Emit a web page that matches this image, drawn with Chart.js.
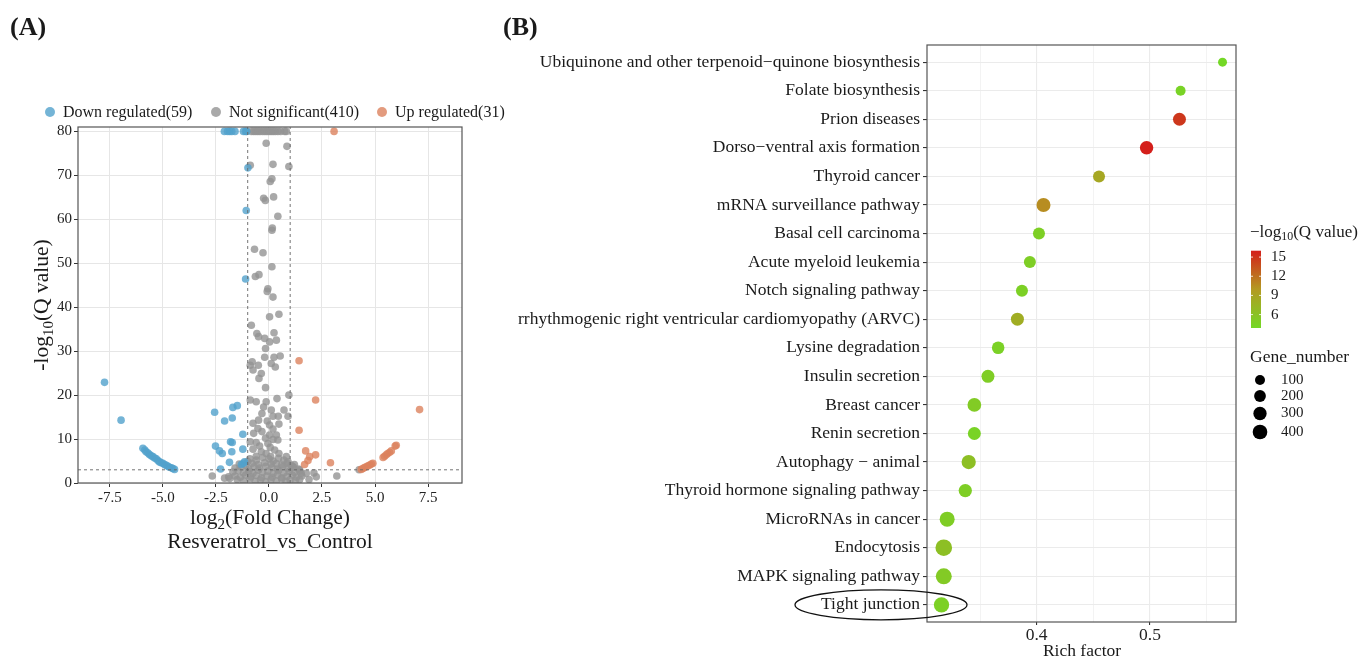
<!DOCTYPE html>
<html>
<head>
<meta charset="utf-8">
<script src="https://cdn.jsdelivr.net/npm/chart.js@4.4.1/dist/chart.umd.min.js"></script>
<style>
  html, body { margin:0; padding:0; background:#fff; }
  body { width:1365px; height:659px; position:relative; overflow:hidden;
         font-family:"Liberation Serif","Times New Roman",serif; color:#1a1a1a; }
  canvas { position:absolute; top:0; }
  #volcano { left:0; }
  #enrich { left:490px; }
  .lbl { position:absolute; white-space:nowrap; line-height:1; }
  .mid { transform:translate(-50%,-50%); }
  .left { transform:translateY(-50%); }
  .rot { transform:translate(-50%,-50%) rotate(-90deg); }
  sub { font-size:0.7em; vertical-align:-0.3em; line-height:0; }
  .dot { position:absolute; width:10px; height:10px; border-radius:50%; transform:translate(-50%,-50%); }
</style>
</head>
<body>
<canvas id="volcano" width="490" height="659"></canvas>
<canvas id="enrich" width="875" height="659"></canvas>

<div class="lbl left" style="left:10px;top:27px;font-size:26px;font-weight:bold">(A)</div>
<div class="lbl left" style="left:503px;top:27px;font-size:26px;font-weight:bold">(B)</div>
<div id="legendA"></div>
<div class="lbl rot" style="left:42px;top:305px;font-size:21.5px">-log<sub>10</sub>(Q value)</div>
<div class="lbl mid" style="left:270px;top:518px;font-size:21.5px">log<sub>2</sub>(Fold Change)</div>
<div class="lbl mid" style="left:270px;top:542px;font-size:21.5px">Resveratrol_vs_Control</div>
<div class="lbl mid" style="left:1082px;top:651px;font-size:17.5px">Rich factor</div>
<div class="lbl left" style="left:1250px;top:231px;font-size:17px">&minus;log<sub>10</sub>(Q value)</div>
<div class="lbl left" style="left:1250px;top:357px;font-size:17.5px">Gene_number</div>

<script>
// ---------- Panel A: volcano plot ----------
const groupLabels = ['Down regulated(59)', 'Not significant(410)', 'Up regulated(31)'];
const groupColors = ['rgba(81,161,204,0.8)', 'rgba(148,148,148,0.8)', 'rgba(220,130,94,0.8)'];

// [log2 fold change, -log10 Q]
const downPoints = [
  [-7.75,22.9],[-6.97,14.3],
  [-5.94,7.9],[-5.85,7.5],[-5.79,7.1],[-5.7,6.8],[-5.63,6.5],[-5.55,6.2],[-5.47,6.0],[-5.39,5.7],
  [-5.31,5.5],[-5.23,5.1],[-5.16,4.8],[-5.08,4.6],[-5.0,4.5],[-4.92,4.2],[-4.84,4.0],[-4.76,3.8],
  [-4.69,3.6],[-4.6,3.45],[-4.53,3.3],[-4.45,3.1],
  [-2.1,80],[-1.95,80],[-1.85,80],[-1.75,80],[-1.6,80],[-1.2,80],[-1.1,80],[-1.05,80],
  [-0.99,71.7],[-1.07,62],[-1.1,46.4],
  [-2.56,16.1],[-2.09,14.1],[-1.73,14.8],[-1.7,17.2],[-1.49,17.6],[-1.23,11.1],
  [-2.52,8.4],[-2.33,7.3],[-2.2,6.7],[-1.81,9.4],[-1.73,9.2],[-1.75,7.1],[-1.23,7.7],
  [-1.86,4.7],[-2.28,3.2],[-1.3,4.2],[-1.15,4.8],[-1.2,4.5]
];
const upPoints = [
  [3.07,80],[1.42,27.8],[2.2,18.9],[7.1,16.7],[1.42,12.0],[1.73,7.3],[1.92,6.0],[2.2,6.4],
  [1.84,5.1],[1.68,4.2],[2.9,4.6],
  [4.35,3.1],[4.43,3.3],[4.5,3.5],[4.59,3.7],[4.67,3.9],[4.75,4.1],[4.83,4.3],[4.9,4.5],
  [5.38,5.8],[5.45,6.1],[5.53,6.4],[5.6,6.7],[5.69,7.0],[5.77,7.3],[5.95,8.4],[6.0,8.6]
];
const nsPoints = [
  [-0.83,80],[-0.72,80],[-0.62,80],[-0.52,80],[-0.42,80],[-0.3,80],[-0.2,80],[-0.1,80],
  [0.0,80],[0.1,80],[0.2,80],[0.3,80],[0.42,80],[0.55,80],[0.74,80],[0.82,80],
  [-0.13,77.3],[0.85,76.6],[-0.88,72.3],[0.19,72.5],[0.94,72.0],[0.14,69.2],[0.06,68.6],
  [-0.25,64.8],[-0.17,64.3],[0.22,65.1],[0.42,60.7],[0.16,58.0],[0.14,57.5],[-0.68,53.2],
  [-0.28,52.4],[0.14,49.2],[-0.47,47.4],[-0.64,47.0],[-0.05,44.2],[-0.08,43.6],[0.19,42.3],
  [0.03,37.8],[0.47,38.4],
  [-0.83,35.9],[-0.57,34.0],[-0.49,33.3],[-0.2,32.9],[0.24,34.2],[0.35,32.5],[0.03,32.1],
  [-0.16,30.6],[0.53,28.9],[-0.2,28.6],[0.24,28.6],[0.11,27.2],[0.3,26.4],[-0.88,26.8],
  [-0.79,27.6],[-0.5,26.8],[-0.75,25.7],[-0.36,24.9],[-0.47,23.8],[-0.16,21.7],[0.38,19.2],
  [0.94,20.0],[-0.88,18.9],[-0.6,18.5],[-0.13,18.5],[-0.25,17.3],[0.11,16.6],[0.71,16.6],
  [-0.33,15.8],[0.19,15.2],[0.44,15.2],[0.9,15.2],[-0.49,14.3],[-0.08,14.1],[-0.75,13.6],
  [0.03,13.2],[0.47,13.4],[0.19,12.3],[-0.52,12.4],[-0.33,11.7],[-0.72,11.3],[0.03,10.9],
  [0.35,10.9],[-0.16,10.2],[0.19,9.9],[0.42,9.8],[-0.6,9.2],[-0.05,9.0],[-0.88,9.4],
  [-0.44,8.4],[0.06,8.1],[0.27,7.5],[-0.75,7.7],[-0.36,7.1],[0.47,6.7],[-0.13,6.7],
  [-0.6,6.1],[0.08,6.0],[0.82,6.0],
  [-0.9,5.5],[-0.6,5.2],[-0.3,5.8],[0.0,5.5],[0.2,5.0],[0.45,5.6],[0.7,5.2],[0.9,4.8],[-1.0,4.9],
  [-1.4,4.3],[-1.1,4.0],[-0.8,4.5],[-0.5,4.2],[-0.2,4.6],[0.1,4.3],[0.35,4.4],[0.6,4.1],
  [0.85,4.5],[1.05,4.0],[1.2,4.2],
  [-1.6,3.4],[-1.3,3.6],[-0.95,3.2],[-0.7,3.7],[-0.45,3.4],[-0.15,3.8],[0.15,3.5],[0.4,3.2],
  [0.65,3.7],[0.9,3.3],[1.15,3.6],[1.4,3.2],
  [-1.7,2.5],[-1.45,2.8],[-1.2,2.3],[-0.95,2.7],[-0.75,2.2],[-0.5,2.9],[-0.3,2.4],[-0.05,2.7],
  [0.2,2.2],[0.45,2.8],[0.7,2.3],[0.95,2.6],[1.2,2.4],[1.45,2.7],
  [-1.6,1.6],[-1.35,1.3],[-1.1,1.8],[-0.85,1.4],[-0.6,1.7],[-0.35,1.2],[-0.1,1.6],[0.15,1.3],
  [0.4,1.8],[0.6,1.2],[0.85,1.5],[1.1,1.8],[1.3,1.3],[1.55,1.6],
  [-1.5,0.8],[-1.2,0.5],[-0.9,0.9],[-0.65,0.4],[-0.4,0.7],[-0.15,0.3],[0.1,0.8],[0.35,0.5],
  [0.6,0.9],[0.8,0.4],[1.0,0.7],[1.25,0.6],
  [-2.67,1.6],[-2.09,1.1],[-1.9,1.4],[-1.85,1.0],[1.45,3.0],[1.52,2.2],[1.76,2.2],[2.12,2.3],
  [2.23,1.4],[1.89,0.8],[1.45,0.8],[1.13,3.7],[3.2,1.6],[4.25,3.0]
];
const fcCut = 1;
const qCut = 3;
const xTicksA = [-7.5, -5, -2.5, 0, 2.5, 5, 7.5];
const yTicksA = [0, 10, 20, 30, 40, 50, 60, 70, 80];

// ---------- Panel B: KEGG enrichment ----------
const categories = [
  'Ubiquinone and other terpenoid\u2212quinone biosynthesis',
  'Folate biosynthesis',
  'Prion diseases',
  'Dorso\u2212ventral axis formation',
  'Thyroid cancer',
  'mRNA surveillance pathway',
  'Basal cell carcinoma',
  'Acute myeloid leukemia',
  'Notch signaling pathway',
  'rrhythmogenic right ventricular cardiomyopathy (ARVC)',
  'Lysine degradation',
  'Insulin secretion',
  'Breast cancer',
  'Renin secretion',
  'Autophagy \u2212 animal',
  'Thyroid hormone signaling pathway',
  'MicroRNAs in cancer',
  'Endocytosis',
  'MAPK signaling pathway',
  'Tight junction'
];
const richFactor = [0.564,0.527,0.526,0.497,0.455,0.406,0.402,0.394,0.387,0.383,
                    0.366,0.357,0.345,0.345,0.340,0.337,0.321,0.318,0.318,0.316];
const negLogQ    = [3.9,4.4,14.8,16.0,8.7,10.6,4.8,4.9,4.7,8.1,
                    4.6,5.0,5.2,4.4,6.3,4.9,5.0,6.3,5.3,4.7];
const geneNumber = [50,100,280,310,215,350,215,215,215,280,
                    250,280,330,280,370,300,425,560,505,450];
const xTicksB = [0.35, 0.4, 0.45, 0.5, 0.55];
const xLabelsB = [0.4, 0.5];
const colorTicks = [6, 9, 12, 15];
const sizeTicks = [100, 200, 300, 400];

Chart.defaults.font.family = '"Liberation Serif","Times New Roman",serif';
Chart.defaults.color = '#1a1a1a';

const toXY = pts => pts.map(p => ({ x: p[0], y: p[1] }));

// legend A (html)
const legendA = document.getElementById('legendA');
const legendX = [50, 216, 382];
groupLabels.forEach((lab, i) => {
  legendA.innerHTML +=
    `<div class="dot" style="left:${legendX[i]}px;top:112px;background:${groupColors[i]}"></div>` +
    `<div class="lbl left" style="left:${legendX[i] + 13}px;top:112px;font-size:16px">${lab}</div>`;
});

const panelBox = {
  id: 'panelBox',
  afterDraw(chart) {
    const a = chart.chartArea, ctx = chart.ctx;
    ctx.save();
    ctx.strokeStyle = '#555';
    ctx.lineWidth = 1.2;
    ctx.strokeRect(a.left, a.top, a.right - a.left, a.bottom - a.top);
    ctx.restore();
  }
};

const yMaxA = 81;
const xMinA = -9.0, xMaxA = 9.1;
const cutLine = { type: 'line', borderColor: '#666', borderWidth: 0.9, borderDash: [3, 3],
                  pointRadius: 0, fill: false, tension: 0 };

new Chart(document.getElementById('volcano'), {
  type: 'scatter',
  data: {
    datasets: [
      Object.assign({ data: [{ x: -fcCut, y: 0 }, { x: -fcCut, y: yMaxA }] }, cutLine),
      Object.assign({ data: [{ x: fcCut, y: 0 }, { x: fcCut, y: yMaxA }] }, cutLine),
      Object.assign({ data: [{ x: xMinA, y: qCut }, { x: xMaxA, y: qCut }] }, cutLine),
      { data: toXY(upPoints), backgroundColor: groupColors[2], pointRadius: 3.8, borderWidth: 0 },
      { data: toXY(downPoints), backgroundColor: groupColors[0], pointRadius: 3.8, borderWidth: 0 },
      { data: toXY(nsPoints), backgroundColor: groupColors[1], pointRadius: 3.8, borderWidth: 0 }
    ]
  },
  options: {
    responsive: false, animation: false, events: [],
    layout: { padding: { left: 0, top: 127, right: 28, bottom: 0 } },
    plugins: { legend: { display: false }, tooltip: { enabled: false } },
    scales: {
      x: {
        type: 'linear', min: xMinA, max: xMaxA,
        afterBuildTicks: s => { s.ticks = xTicksA.map(v => ({ value: v })); },
        afterFit: s => { s.height = 176; },
        ticks: { callback: v => v.toFixed(1), font: { size: 15 }, color: '#222',
                 padding: 2, maxRotation: 0, autoSkip: false },
        grid: { color: '#E6E6E6', tickColor: '#333', tickLength: 4 },
        border: { display: false }
      },
      y: {
        type: 'linear', min: 0, max: yMaxA,
        afterBuildTicks: s => { s.ticks = yTicksA.map(v => ({ value: v })); },
        afterFit: s => { s.width = 78; },
        ticks: { callback: v => String(v), font: { size: 15 }, color: '#222', padding: 2 },
        grid: { color: '#E6E6E6', tickColor: '#333', tickLength: 4 },
        border: { display: false }
      }
    }
  },
  plugins: [panelBox]
});

// colour and size scales for panel B
const qMin = Math.min(...negLogQ), qMax = Math.max(...negLogQ);
const colorStops = [[116, 216, 38], [179, 154, 34], [212, 31, 27]];
function qColor(v) {
  let t = (v - qMin) / (qMax - qMin);
  t = Math.max(0, Math.min(1, t)) * 2;
  const i = Math.min(1, Math.floor(t)), f = t - i;
  const a = colorStops[i], b = colorStops[i + 1];
  return `rgb(${a.map((c, k) => Math.round(c + (b[k] - c) * f)).join(',')})`;
}
const geneRadius = g => Math.sqrt(15.4 + 0.096 * g);

const OFF = 490; // canvas B left offset on the page
const legendB = {
  id: 'legendB',
  afterDraw(chart) {
    const ctx = chart.ctx;
    ctx.save();
    // ellipse around Tight junction
    const yTJ = chart.scales.y.getPixelForValue(categories.length - 1);
    ctx.strokeStyle = '#111';
    ctx.lineWidth = 1.3;
    ctx.beginPath();
    ctx.ellipse(881 - OFF, yTJ, 86, 15, 0, 0, Math.PI * 2);
    ctx.stroke();

    // colour bar
    const bx = 1251 - OFF, bw = 10, top = 250.7, bot = 328;
    const grad = ctx.createLinearGradient(0, bot, 0, top);
    for (let k = 0; k <= 20; k++) {
      grad.addColorStop(k / 20, qColor(qMin + (qMax - qMin) * k / 20));
    }
    ctx.fillStyle = grad;
    ctx.fillRect(bx, top, bw, bot - top);
    ctx.font = '15px "Liberation Serif","Times New Roman",serif';
    ctx.textBaseline = 'middle';
    ctx.textAlign = 'left';
    colorTicks.forEach(v => {
      const y = bot - (v - qMin) / (qMax - qMin) * (bot - top);
      ctx.strokeStyle = '#fff';
      ctx.lineWidth = 0.8;
      ctx.beginPath();
      ctx.moveTo(bx, y); ctx.lineTo(bx + 2, y);
      ctx.moveTo(bx + bw - 2, y); ctx.lineTo(bx + bw, y);
      ctx.stroke();
      ctx.fillStyle = '#1a1a1a';
      ctx.fillText(String(v), 1271 - OFF, y);
    });

    // gene number sizes
    const sizeY = [380, 396, 413.5, 432];
    sizeTicks.forEach((g, i) => {
      ctx.fillStyle = '#000';
      ctx.beginPath();
      ctx.arc(1260 - OFF, sizeY[i], geneRadius(g), 0, Math.PI * 2);
      ctx.fill();
      ctx.fillStyle = '#1a1a1a';
      ctx.fillText(String(g), 1281 - OFF, sizeY[i]);
    });
    ctx.restore();
  }
};

new Chart(document.getElementById('enrich'), {
  type: 'scatter',
  data: {
    datasets: [{
      data: categories.map((c, i) => ({ x: richFactor[i], y: i })),
      backgroundColor: negLogQ.map(qColor),
      pointRadius: geneNumber.map(geneRadius),
      borderWidth: 0
    }]
  },
  options: {
    responsive: false, animation: false, events: [],
    layout: { padding: { left: 0, top: 45, right: 129, bottom: 0 } },
    plugins: { legend: { display: false }, tooltip: { enabled: false } },
    scales: {
      x: {
        type: 'linear', min: 0.3032, max: 0.5759,
        afterBuildTicks: s => { s.ticks = xTicksB.map(v => ({ value: v })); },
        afterFit: s => { s.height = 37; },
        ticks: {
          callback: v => xLabelsB.some(l => Math.abs(l - v) < 1e-9) ? v.toFixed(1) : '',
          font: { size: 17.5 }, color: '#222', padding: 0, maxRotation: 0, autoSkip: false
        },
        grid: {
          color: '#EBEBEB',
          lineWidth: c => xLabelsB.some(l => Math.abs(l - c.tick.value) < 1e-9) ? 1.1 : 0.6,
          tickColor: c => xLabelsB.some(l => Math.abs(l - c.tick.value) < 1e-9) ? '#333' : 'rgba(0,0,0,0)',
          tickLength: 3
        },
        border: { display: false }
      },
      y: {
        type: 'linear', min: -0.6, max: categories.length - 0.4, reverse: true,
        afterBuildTicks: s => { s.ticks = categories.map((c, i) => ({ value: i })); },
        afterFit: s => { s.width = 437; },
        ticks: { callback: v => categories[v], font: { size: 17.5 }, color: '#1a1a1a',
                 padding: 3, autoSkip: false },
        grid: { color: '#EBEBEB', lineWidth: 1.1, tickColor: '#333', tickLength: 4 },
        border: { display: false }
      }
    }
  },
  plugins: [panelBox, legendB]
});
</script>
</body>
</html>
